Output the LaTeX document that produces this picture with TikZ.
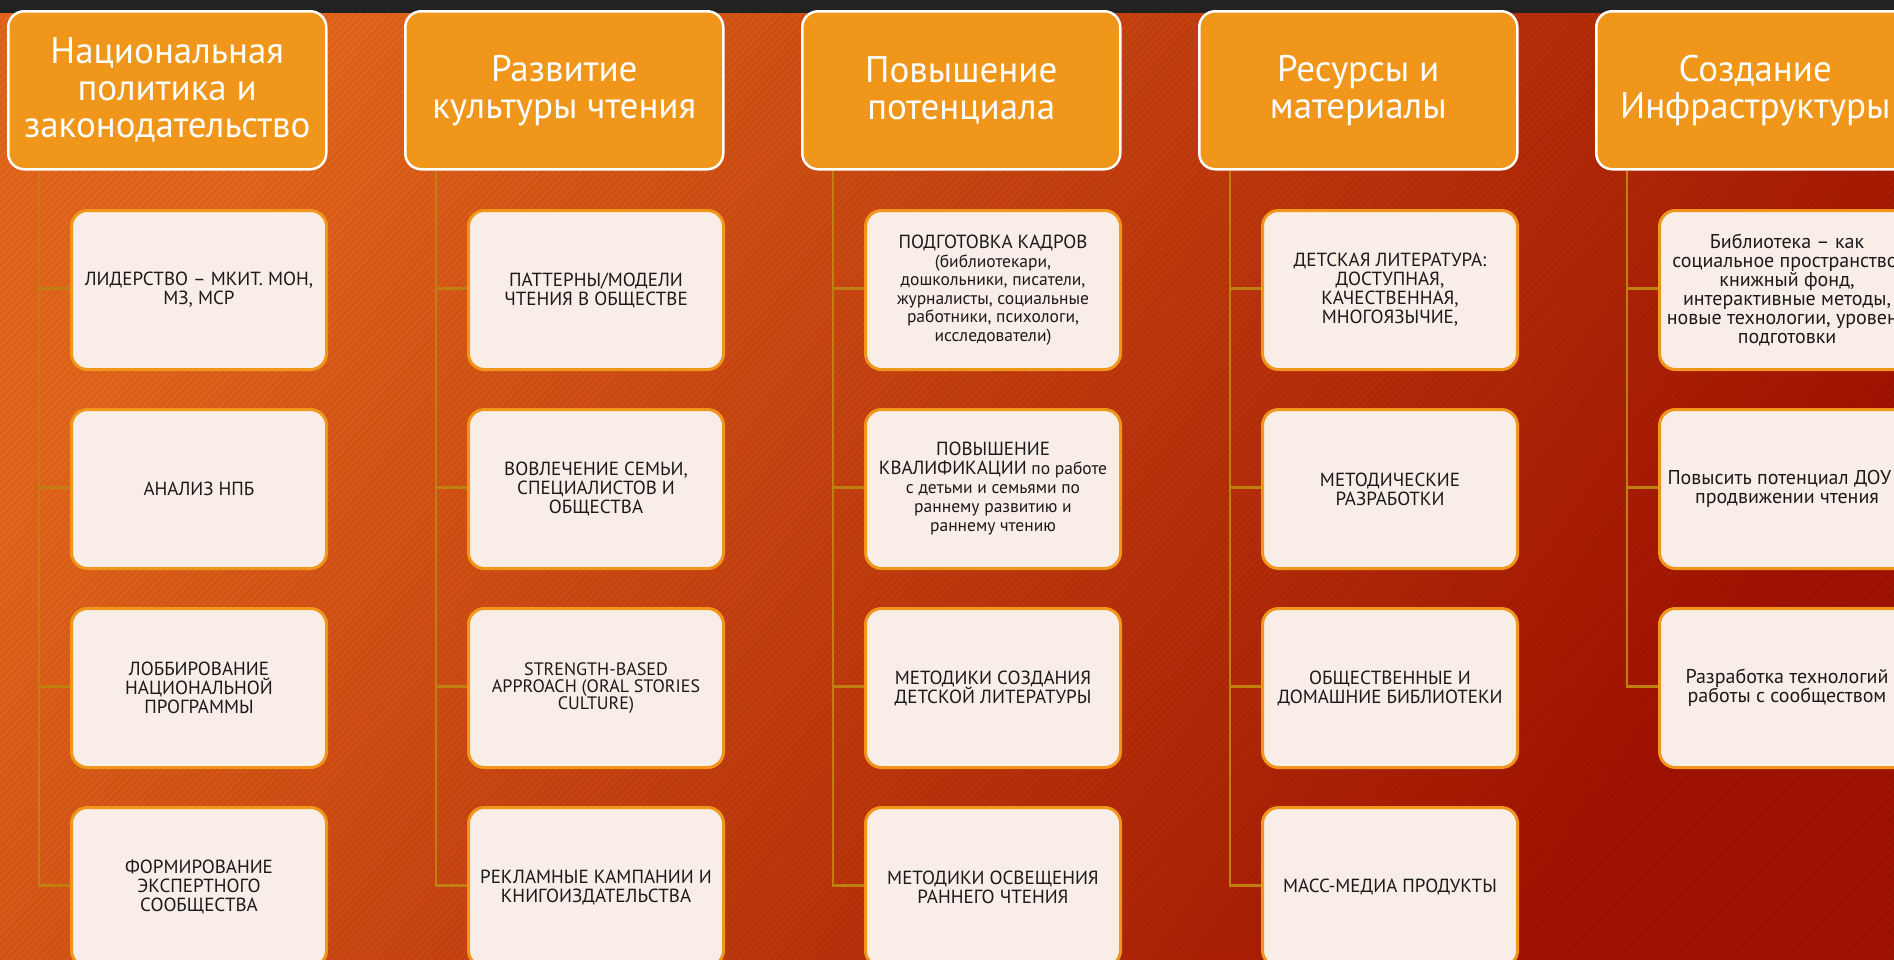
\documentclass[tikz,border=0pt]{standalone}
\usepackage{fontspec}
\setmainfont{PT Sans}
\usetikzlibrary{calc}
\definecolor{bgA}{HTML}{E3661C}
\definecolor{bgM}{HTML}{D24C18}
\definecolor{bgB}{HTML}{A01200}
\definecolor{topbar}{HTML}{222222}
\definecolor{headfill}{HTML}{F0961A}
\definecolor{childfill}{HTML}{F9EDE8}
\definecolor{childedge}{HTML}{F0961A}
\definecolor{connclr}{HTML}{C0800F}
\definecolor{txt}{HTML}{1A1A1A}
\tikzset{
  headbox/.style={draw=white, line width=2.5pt, fill=headfill, rounded corners=16pt,
    anchor=north west, minimum width=318pt, minimum height=158pt, inner sep=0pt,
    align=center, text=white, font=\fontsize{37}{37}\selectfont},
  childbox/.style={draw=childedge, line width=3pt, fill=childfill, rounded corners=16pt,
    anchor=north west, minimum width=255pt, minimum height=159pt, inner sep=0pt,
    align=center, text=txt, font=\fontsize{19}{19}\selectfont},
  bigbox/.style={childbox, font=\fontsize{20}{19}\selectfont},
  conn/.style={draw=connclr, line width=2.5pt}
}
\begin{document}
\begin{tikzpicture}[x=1pt,y=-1pt]
\useasboundingbox (0,0) rectangle (1894,959);
\clip (0,0) rectangle (1894,959);
\shade[left color=bgA, middle color=bgM, right color=bgB, shading angle=55] (0,0) rectangle (1894,959);
\foreach \i in {0,7,...,2860} \draw[black, opacity=0.05, line width=2pt] (\i-959,959) -- (\i,0);
\fill[topbar] (0,0) rectangle (1894,13);

% headers
\node[headbox] (h1) at (7,10) {Национальная\\политика и\\законодательство};
\node[headbox] (h2) at (404,10) {Развитие\\культуры чтения};
\node[headbox] (h3) at (801,10) {Повышение\\потенциала};
\node[headbox] (h4) at (1198,10) {Ресурсы и\\материалы};
\node[headbox] (h5) at (1595,10) {Создание\\Инфраструктуры};

% connectors (behind children)
\foreach \c/\n in {1/4,2/4,3/4,4/4,5/3} {
  \foreach \j in {1,...,\n} {
    \coordinate (tmp) at ({7+397*(\c-1)+63},{209+199*(\j-1)+79.5});
    \draw[conn] ([xshift=32pt]h\c.south west) |- (tmp);
  }
}

% column 1
\node[childbox] (c11) at (70,209) {ЛИДЕРСТВО – МКИТ. МОН,\\МЗ, МСР};
\node[childbox] (c12) at (70,408) {АНАЛИЗ НПБ};
\node[childbox] (c13) at (70,607) {ЛОББИРОВАНИЕ\\НАЦИОНАЛЬНОЙ\\ПРОГРАММЫ};
\node[childbox] (c14) at (70,806) {ФОРМИРОВАНИЕ\\ЭКСПЕРТНОГО\\СООБЩЕСТВА};
% column 2
\node[childbox] (c21) at (467,209) {ПАТТЕРНЫ/МОДЕЛИ\\ЧТЕНИЯ В ОБЩЕСТВЕ};
\node[childbox] (c22) at (467,408) {ВОВЛЕЧЕНИЕ СЕМЬИ,\\СПЕЦИАЛИСТОВ И\\ОБЩЕСТВА};
\node[childbox, font=\fontsize{18}{17}\selectfont] (c23) at (467,607) {STRENGTH-BASED\\APPROACH (ORAL STORIES\\CULTURE)};
\node[childbox] (c24) at (467,806) {РЕКЛАМНЫЕ КАМПАНИИ И\\КНИГОИЗДАТЕЛЬСТВА};
% column 3
\node[childbox, font=\fontsize{17.5}{18.5}\selectfont] (c31) at (864,209) {{\fontsize{19}{18.5}\selectfont ПОДГОТОВКА КАДРОВ}\\(библиотекари,\\дошкольники, писатели,\\журналисты, социальные\\работники, психологи,\\исследователи)};
\node[childbox, font=\fontsize{17.5}{19}\selectfont] (c32) at (864,408) {{\fontsize{19}{19}\selectfont ПОВЫШЕНИЕ}\\{\fontsize{19}{19}\selectfont КВАЛИФИКАЦИИ} по работе\\с детьми и семьями по\\раннему развитию и\\раннему чтению};
\node[childbox] (c33) at (864,607) {МЕТОДИКИ СОЗДАНИЯ\\ДЕТСКОЙ ЛИТЕРАТУРЫ};
\node[childbox] (c34) at (864,806) {МЕТОДИКИ ОСВЕЩЕНИЯ\\РАННЕГО ЧТЕНИЯ};
% column 4
\node[childbox] (c41) at (1261,209) {ДЕТСКАЯ ЛИТЕРАТУРА:\\ДОСТУПНАЯ,\\КАЧЕСТВЕННАЯ,\\МНОГОЯЗЫЧИЕ,};
\node[childbox] (c42) at (1261,408) {МЕТОДИЧЕСКИЕ\\РАЗРАБОТКИ};
\node[childbox] (c43) at (1261,607) {ОБЩЕСТВЕННЫЕ И\\ДОМАШНИЕ БИБЛИОТЕКИ};
\node[childbox] (c44) at (1261,806) {МАСС-МЕДИА ПРОДУКТЫ};
% column 5
\node[bigbox] (c51) at (1658,209) {Библиотека – как\\социальное пространство,\\книжный фонд,\\интерактивные методы,\\новые технологии, уровень\\подготовки};
\node[bigbox] (c52) at (1658,408) {Повысить потенциал ДОУ в\\продвижении чтения};
\node[bigbox] (c53) at (1658,607) {Разработка технологий\\работы с сообществом};
\end{tikzpicture}
\end{document}
